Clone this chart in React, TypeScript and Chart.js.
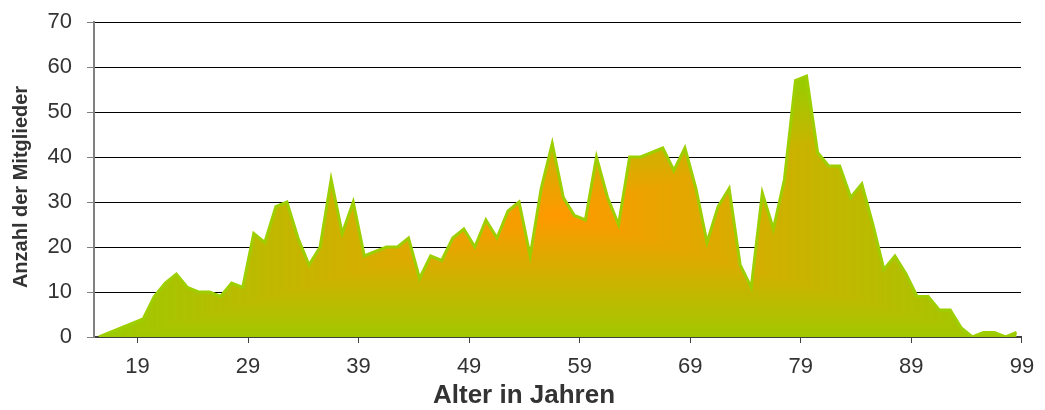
import React, { useEffect, useRef } from "react";
import { Chart, registerables } from "chart.js";

Chart.register(...registerables);

// Age (years) of members
const ages: number[] = [
  16, 17, 18, 19, 20, 21, 22, 23, 24, 25, 26, 27, 28, 29, 30, 31, 32, 33, 34, 35,
  36, 37, 38, 39, 40, 41, 42, 43, 44, 45, 46, 47, 48, 49, 50, 51, 52, 53, 54, 55,
  56, 57, 58, 59, 60, 61, 62, 63, 64, 65, 66, 67, 68, 69, 70, 71, 72, 73, 74, 75,
  76, 77, 78, 79, 80, 81, 82, 83, 84, 85, 86, 87, 88, 89, 90, 91, 92, 93, 94, 95,
  96, 97, 98, 99,
];

// Number of members per age
const counts: number[] = [
  0, 1, 2, 3, 4, 9, 12, 14, 11, 10, 10, 9, 12, 11, 23, 21, 29, 30, 22, 16,
  20, 35, 23, 30, 18, 19, 20, 20, 22, 13, 18, 17, 22, 24, 20, 26, 22, 28, 30, 18,
  33, 43, 31, 27, 26, 40, 31, 25, 40, 40, 41, 42, 37, 42, 33, 21, 29, 33, 16, 11,
  32, 24, 35, 57, 58, 41, 38, 38, 31, 34, 25, 15, 18, 14, 9, 9, 6, 6, 2, 0,
  1, 1, 0, 1,
];

// Labelled ages on the x axis
const xTickAges: number[] = [19, 29, 39, 49, 59, 69, 79, 89, 99];
const yTicks: number[] = [0, 10, 20, 30, 40, 50, 60, 70];

const xTitle = "Alter in Jahren";
const yTitle = "Anzahl der Mitglieder";

const TICK_SHIFT = 0.48;
const ORANGE = [255, 153, 0];
const GREEN = [154, 203, 0];
const FONT = "'Liberation Sans', Arial, sans-serif";
const TEXT = "#333333";

let cache: { key: string; pat: CanvasPattern | string } | null = null;

function makeFill(chart: any): CanvasPattern | string {
  const { chartArea, scales } = chart;
  const fallback = "rgb(154,203,0)";
  if (!chartArea || !scales || !scales.x || !scales.y) return fallback;
  const x0 = scales.x.getPixelForValue(ages[0]);
  const x1 = scales.x.getPixelForValue(ages[ages.length - 1]);
  const y0 = scales.y.getPixelForValue(Math.max(...counts));
  const y1 = scales.y.getPixelForValue(0);
  if (!isFinite(x0) || !isFinite(y0)) return fallback;
  const W = chart.canvas.width;
  const H = chart.canvas.height;
  const key = [x0, x1, y0, y1, W, H].map((v) => Math.round(v)).join(",");
  if (cache && cache.key === key) return cache.pat;
  const off = document.createElement("canvas");
  off.width = W;
  off.height = H;
  const octx = off.getContext("2d");
  if (!octx) return fallback;
  const img = octx.createImageData(W, H);
  const cx = (x0 + x1) / 2;
  const cy = (y0 + y1) / 2 + 8;
  const hw = (x1 - x0) / 2;
  const hh = (y1 - y0) / 2;
  for (let y = 0; y < H; y++) {
    const dy = Math.abs(y + 0.5 - cy) / hh;
    for (let x = 0; x < W; x++) {
      const dx = Math.abs(x + 0.5 - cx) / hw;
      const t = Math.min(1, Math.max(dx, dy));
      const i = (y * W + x) * 4;
      img.data[i] = ORANGE[0] + (GREEN[0] - ORANGE[0]) * t;
      img.data[i + 1] = ORANGE[1] + (GREEN[1] - ORANGE[1]) * t;
      img.data[i + 2] = ORANGE[2] + (GREEN[2] - ORANGE[2]) * t;
      img.data[i + 3] = 255;
    }
  }
  octx.putImageData(img, 0, 0);
  const pat = chart.ctx.createPattern(off, "no-repeat") || fallback;
  cache = { key, pat };
  return pat;
}

const titlesPlugin = {
  id: "axisTitles",
  afterDraw(chart: any) {
    const ctx = chart.ctx;
    ctx.save();
    ctx.fillStyle = TEXT;
    ctx.textAlign = "center";
    ctx.textBaseline = "middle";
    ctx.font = `bold 26px ${FONT}`;
    ctx.fillText(xTitle, 524, 396);
    ctx.translate(21.5, 187);
    ctx.rotate(-Math.PI / 2);
    ctx.font = `bold 20px ${FONT}`;
    ctx.fillText(yTitle, 0, 0);
    ctx.restore();
  },
};

export default function App() {
  const ref = useRef<HTMLCanvasElement | null>(null);

  useEffect(() => {
    if (!ref.current) return;
    const chart = new Chart(ref.current, {
      type: "line",
      data: {
        datasets: [
          {
            data: ages.map((a, i) => ({ x: a, y: counts[i] })),
            borderColor: "#9DCF00",
            borderWidth: 3,
            pointRadius: 0,
            tension: 0,
            fill: "origin",
            backgroundColor: (ctx: any) => makeFill(ctx.chart),
          },
        ],
      },
      plugins: [titlesPlugin],
      options: {
        responsive: false,
        animation: false,
        events: [],
        layout: { padding: { top: 22, right: 24, left: 0, bottom: 0 } },
        plugins: { legend: { display: false }, tooltip: { enabled: false } },
        scales: {
          x: {
            type: "linear",
            min: 15.55,
            max: 99.4,
            afterBuildTicks: (scale: any) => {
              scale.ticks = xTickAges.map((a) => ({ value: a + TICK_SHIFT }));
            },
            afterFit: (scale: any) => {
              scale.height = 73;
              scale.paddingLeft = 0;
              scale.paddingRight = 0;
            },
            ticks: {
              autoSkip: false,
              maxRotation: 0,
              padding: 11,
              color: TEXT,
              font: { family: FONT, size: 22 },
              callback: (v: any) => String(Math.round(Number(v) - TICK_SHIFT)),
            },
            grid: {
              drawOnChartArea: false,
              drawTicks: true,
              tickLength: 6,
              color: "#404040",
              lineWidth: 1,
            },
            border: { display: true, color: "#404040", width: 2 },
            title: { display: false },
          },
          y: {
            min: 0,
            max: 70,
            afterBuildTicks: (scale: any) => {
              scale.ticks = yTicks.map((v) => ({ value: v }));
            },
            afterFit: (scale: any) => {
              scale.width = 94;
              scale.paddingTop = 0;
              scale.paddingBottom = 0;
            },
            ticks: {
              padding: 15,
              color: TEXT,
              font: { family: FONT, size: 22 },
            },
            grid: {
              color: "#000000",
              lineWidth: 1,
              tickColor: "#808080",
              tickLength: 7,
            },
            border: { display: true, color: "#808080", width: 2 },
            title: { display: false },
          },
        },
      },
    });
    return () => chart.destroy();
  }, []);

  return (
    <div style={{ position: "absolute", left: 0, top: 0, width: 1045, height: 410 }}>
      <canvas ref={ref} width={1045} height={410} style={{ display: "block" }} />
    </div>
  );
}
